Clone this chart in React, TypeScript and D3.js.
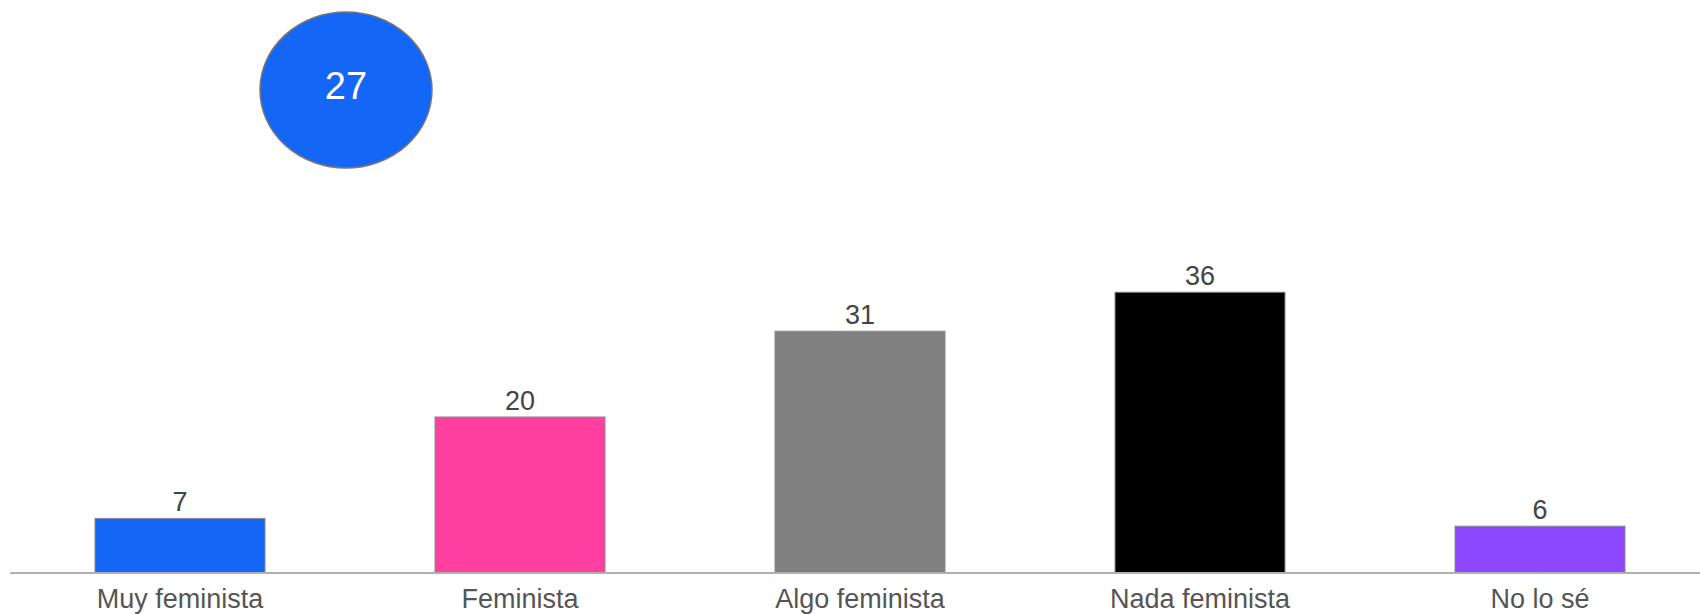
import React from "react";
import * as d3 from "d3";

const categories = ["Muy feminista", "Feminista", "Algo feminista", "Nada feminista", "No lo sé"];
const values = [7, 20, 31, 36, 6];
const colors = ["#1466f6", "#ff40a0", "#808080", "#000000", "#8c47ff"];
const bubbleValue = [27];

const W = 1700;
const H = 614;
const baseY = 573;

export default function App() {
  const x = d3.scaleBand<string>().domain(categories).range([10, 1710]).paddingInner(0.5).paddingOuter(0.25);
  const y = d3.scaleLinear().domain([0, 40]).range([baseY, baseY - 312]);
  const font = "'Liberation Sans', Arial, sans-serif";
  return (
    <svg width={W} height={H} style={{ position: "absolute", left: 0, top: 0, background: "#fff" }}>
      {categories.map((c, i) => (
        <g key={c}>
          <rect
            x={x(c)}
            y={y(values[i])}
            width={x.bandwidth()}
            height={baseY - y(values[i])}
            fill={colors[i]}
            stroke="#8a8a8a"
            strokeWidth={1}
          />
          <text
            x={(x(c) as number) + x.bandwidth() / 2}
            y={y(values[i]) - 7}
            textAnchor="middle"
            fontFamily={font}
            fontSize={27}
            fill="#444"
          >
            {values[i]}
          </text>
          <text
            x={(x(c) as number) + x.bandwidth() / 2}
            y={608}
            textAnchor="middle"
            fontFamily={font}
            fontSize={27}
            fill="#555"
          >
            {c}
          </text>
        </g>
      ))}
      <line x1={10} x2={W} y1={baseY} y2={baseY} stroke="#b0b0b0" strokeWidth={2} />
      <ellipse cx={346} cy={90} rx={86} ry={78} fill="#1466f6" stroke="#777" strokeWidth={1.5} />
      <text x={346} y={99} textAnchor="middle" fontFamily={font} fontSize={38} fill="#fff">
        {bubbleValue[0]}
      </text>
    </svg>
  );
}
